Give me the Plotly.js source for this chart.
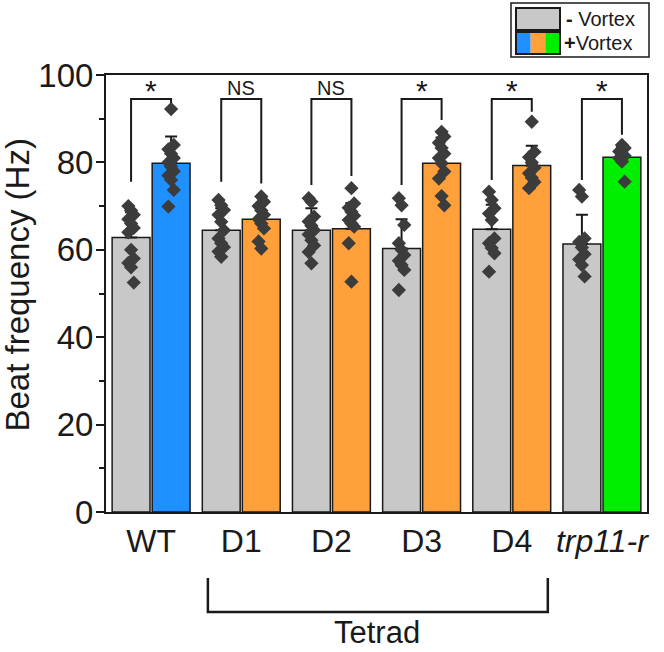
<!DOCTYPE html>
<html><head><meta charset="utf-8">
<script src="https://cdn.plot.ly/plotly-3.0.1.min.js"></script>
<style>html,body{margin:0;padding:0;background:#fff}</style>
</head><body><div id="chart" style="width:664px;height:652px"></div>
<script>
// ---- data ----
const categories = ['WT', 'D1', 'D2', 'D3', 'D4', 'trp11-r'];
const tickLabels = ['WT', 'D1', 'D2', 'D3', 'D4', '<i>trp11-r</i>'];
const meanMinus = [62.8, 64.5, 64.5, 60.3, 64.7, 61.3];
const sdMinus   = [5.8, 5.0, 5.0, 6.7, 5.6, 6.7];
const meanPlus  = [79.8, 67.0, 64.8, 79.8, 79.3, 81.2];
const sdPlus    = [6.1, 3.6, 5.9, 5.9, 4.5, 2.4];
const pointsMinus = [
  [70.0, 69.0, 68.0, 67.0, 66.0, 65.0, 64.0, 60.0, 58.0, 57.0, 56.0, 52.5],
  [71.4, 70.2, 69.1, 68.0, 66.4, 64.5, 62.6, 61.5, 60.6, 59.6, 58.4],
  [71.8, 71.0, 67.6, 66.5, 65.5, 64.5, 63.5, 62.2, 61.0, 59.5, 56.9],
  [71.8, 70.2, 65.7, 61.5, 60.0, 58.8, 57.5, 56.5, 55.4, 50.8],
  [73.3, 71.4, 69.5, 68.3, 66.8, 62.6, 61.5, 60.4, 59.2, 55.0],
  [73.7, 72.2, 62.6, 61.8, 60.5, 59.0, 57.8, 56.5, 53.9]
];
const pointsPlus = [
  [92.2, 84.0, 83.0, 82.0, 81.0, 80.0, 79.0, 78.0, 77.0, 76.0, 73.7, 69.9],
  [72.2, 71.0, 70.0, 69.0, 68.0, 67.0, 66.0, 64.9, 61.9, 60.3],
  [74.1, 70.6, 69.6, 68.7, 67.8, 66.8, 66.0, 65.3, 61.5, 52.7],
  [87.0, 85.9, 84.5, 83.3, 82.0, 81.0, 79.8, 77.9, 76.3, 72.3, 70.2],
  [89.3, 82.4, 81.2, 80.0, 78.8, 77.5, 76.5, 75.5, 74.1],
  [84.0, 83.3, 82.5, 82.0, 81.5, 81.0, 80.2, 75.6]
];
const significance = ['*', 'NS', 'NS', '*', '*', '*'];
const bracketLeftEnd  = [75.6, 75.6, 74.8, 74.8, 76.0, 76.0];
const bracketRightEnd = [93.6, 75.2, 76.9, 89.7, 91.6, 86.3];
const bracketTop = 94.5;

// ---- styles ----
const grayColor = '#c8c8c8';
const plusColors = ['#1E90FF', '#FFA03A', '#FFA03A', '#FFA03A', '#FFA03A', '#00EE00'];
const FONT = 'Arial, "Liberation Sans", Helvetica, sans-serif';
const dark = '#1a1a1a';
const OFF = 0.222, BW = 0.42;

const idx = categories.map((c, i) => i);
const traces = [];
traces.push({
  type: 'bar', x: idx.map(i => i - OFF), y: meanMinus, width: BW,
  marker: {color: grayColor, line: {color: dark, width: 1.5}},
  error_y: {type: 'data', symmetric: false, array: sdMinus, arrayminus: sdMinus.map(() => 0),
            color: dark, thickness: 2, width: 6},
  hoverinfo: 'skip'
});
traces.push({
  type: 'bar', x: idx.map(i => i + OFF), y: meanPlus, width: BW,
  marker: {color: plusColors, line: {color: dark, width: 1.5}},
  error_y: {type: 'data', symmetric: false, array: sdPlus, arrayminus: sdPlus.map(() => 0),
            color: dark, thickness: 2, width: 6},
  hoverinfo: 'skip'
});
function jit(k) { return ((k % 3) - 1) * 0.03; }
const px = [], py = [];
idx.forEach(i => {
  pointsMinus[i].forEach((v, k) => { px.push(i - OFF + jit(k)); py.push(v); });
  pointsPlus[i].forEach((v, k) => { px.push(i + OFF + jit(k + 1)); py.push(v); });
});
traces.push({
  type: 'scatter', mode: 'markers', x: px, y: py,
  marker: {symbol: 'diamond', size: 11, color: '#3c3c3c', line: {width: 0}},
  cliponaxis: false, hoverinfo: 'skip'
});

const shapes = [], annotations = [];
idx.forEach(i => {
  const x1 = i - OFF, x2 = i + OFF;
  shapes.push({type: 'path', xref: 'x', yref: 'y',
    path: `M ${x1},${bracketLeftEnd[i]} L ${x1},${bracketTop} L ${x2},${bracketTop} L ${x2},${bracketRightEnd[i]}`,
    line: {color: dark, width: 2}});
  const star = significance[i] === '*';
  annotations.push({xref: 'x', yref: 'y', x: i, y: bracketTop, yanchor: 'bottom',
    text: significance[i], showarrow: false, yshift: star ? -10 : -2,
    font: {family: FONT, size: star ? 30 : 20, color: dark}});
});
// Tetrad bracket
shapes.push({type: 'path', xref: 'x', yref: 'paper',
  path: 'M 0.63,-0.151 L 0.63,-0.2288 L 4.40,-0.2288 L 4.40,-0.151',
  line: {color: dark, width: 2.5}});
annotations.push({xref: 'paper', yref: 'paper', x: 0.5, y: -0.276, text: 'Tetrad', showarrow: false,
  xanchor: 'center', yanchor: 'middle', font: {family: FONT, size: 31, color: dark}});
annotations.push({xref: 'paper', yref: 'paper', x: -0.163, y: 0.52, text: 'Beat frequency (Hz)',
  showarrow: false, textangle: -90, xanchor: 'center', yanchor: 'middle',
  font: {family: FONT, size: 33, color: dark}});

// legend (drawn)
function pxX(p) { return (p - 106) / 541; }
function pxY(p) { return (512 - p) / 437; }
shapes.push({type: 'rect', xref: 'paper', yref: 'paper', x0: pxX(511), x1: pxX(649), y0: pxY(57), y1: pxY(3),
  line: {color: dark, width: 1.5}, fillcolor: '#fff'});
shapes.push({type: 'rect', xref: 'paper', yref: 'paper', x0: pxX(516), x1: pxX(560), y0: pxY(30), y1: pxY(8),
  line: {color: dark, width: 2}, fillcolor: grayColor});
const stripeCols = ['#1E90FF', '#FFA03A', '#00EE00'];
stripeCols.forEach((c, k) => {
  shapes.push({type: 'rect', xref: 'paper', yref: 'paper',
    x0: pxX(516 + k * 44 / 3), x1: pxX(516 + (k + 1) * 44 / 3), y0: pxY(54), y1: pxY(32),
    line: {width: 0}, fillcolor: c});
});
shapes.push({type: 'rect', xref: 'paper', yref: 'paper', x0: pxX(516), x1: pxX(560), y0: pxY(54), y1: pxY(32),
  line: {color: dark, width: 2}, fillcolor: 'rgba(0,0,0,0)'});
annotations.push({xref: 'paper', yref: 'paper', x: pxX(564), y: pxY(19), xanchor: 'left', yanchor: 'middle',
  text: '<b>-</b> Vortex', showarrow: false, font: {family: FONT, size: 20, color: dark}});
annotations.push({xref: 'paper', yref: 'paper', x: pxX(562), y: pxY(43), xanchor: 'left', yanchor: 'middle',
  text: '<b>+</b>Vortex', showarrow: false, font: {family: FONT, size: 20, color: dark}});

const layout = {
  width: 664, height: 652,
  margin: {l: 106, r: 17, t: 75, b: 140},
  paper_bgcolor: '#fff', plot_bgcolor: '#fff',
  showlegend: false, barmode: 'overlay',
  font: {family: FONT, color: dark},
  xaxis: {range: [-0.5, 5.5], tickvals: idx, ticktext: tickLabels, ticks: '',
    showline: true, mirror: true, linecolor: dark, linewidth: 2, showgrid: false, zeroline: false,
    tickfont: {family: FONT, size: 32, color: dark}, ticklabelstandoff: 0, fixedrange: true},
  yaxis: {range: [0, 100], tickvals: [0, 20, 40, 60, 80, 100], ticks: 'outside', ticklen: 8, tickwidth: 2,
    tickcolor: dark, minor: {tickvals: [10, 30, 50, 70, 90], ticks: 'outside', ticklen: 5, tickwidth: 2, tickcolor: dark},
    showline: true, mirror: true, linecolor: dark, linewidth: 2, showgrid: false, zeroline: false,
    tickfont: {family: FONT, size: 33, color: dark}, ticklabelstandoff: -4, fixedrange: true},
  shapes: shapes, annotations: annotations
};
Plotly.newPlot('chart', traces, layout, {staticPlot: true, displayModeBar: false});
</script></body></html>
